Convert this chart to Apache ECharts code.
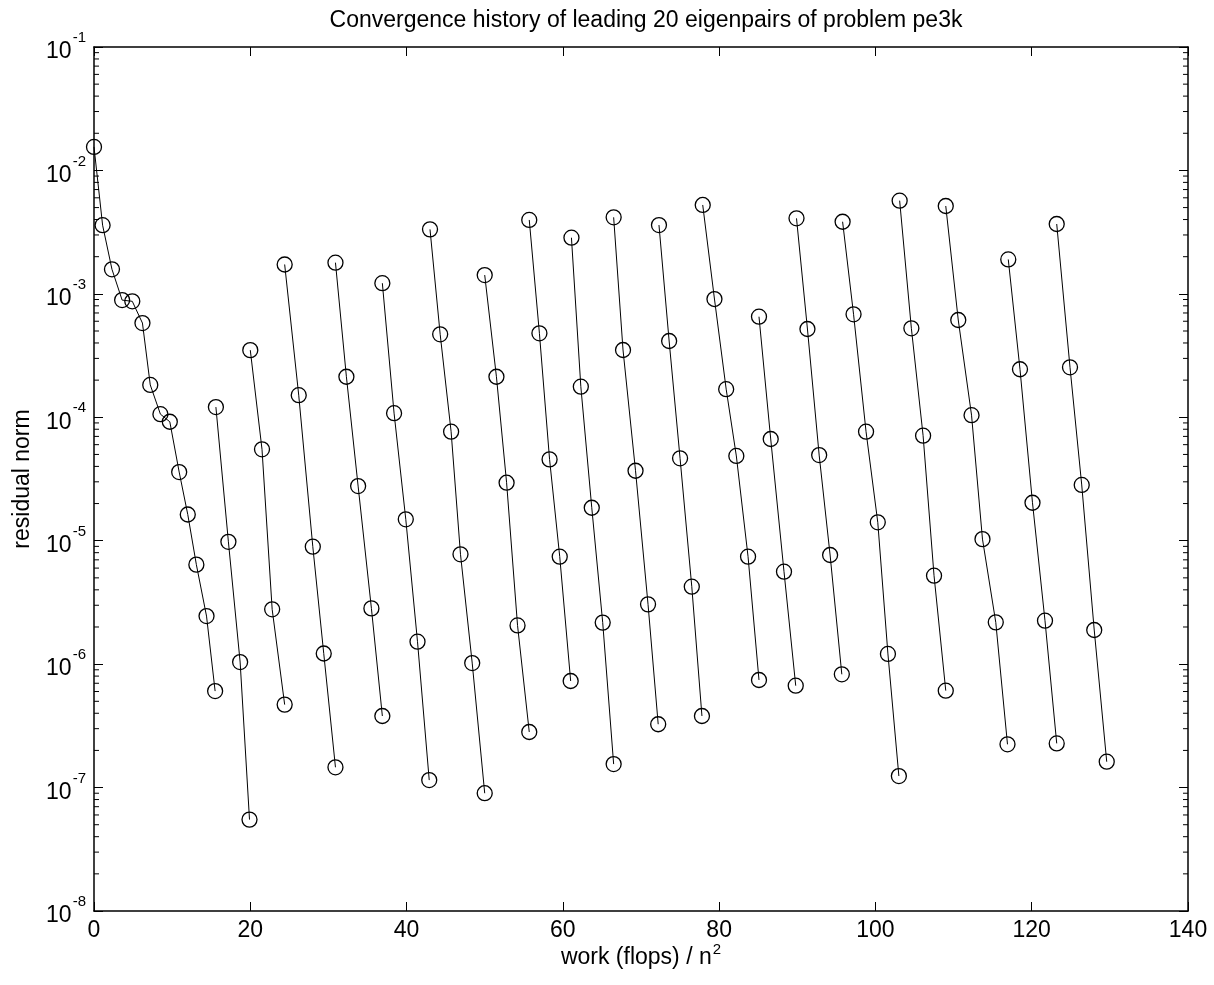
<!DOCTYPE html>
<html>
<head>
<meta charset="utf-8">
<script src="https://cdn.jsdelivr.net/npm/echarts@6/dist/echarts.min.js"></script>
<style>
html,body{margin:0;padding:0;background:#fff;}
#chart{width:1214px;height:985px;}
</style>
</head>
<body>
<div id="chart"></div>
<script>
// ---- data: work (flops)/n^2 and residual norm for each run ----
const x01 = [0, 1.1, 2.3, 3.6, 4.9, 6.2, 7.2, 8.5, 9.7, 10.9, 12.0, 13.1, 14.4, 15.5];
const r01 = [1.55e-2, 3.6e-3, 1.58e-3, 8.9e-4, 8.7e-4, 5.8e-4, 1.83e-4, 1.06e-4, 9.2e-5, 3.6e-5, 1.63e-5, 6.4e-6, 2.45e-6, 6.05e-7];
const x02 = [15.6, 17.2, 18.7, 19.9];
const r02 = [1.21e-4, 9.8e-6, 1.04e-6, 5.5e-8];
const x03 = [20.0, 21.5, 22.8, 24.4];
const r03 = [3.5e-4, 5.5e-5, 2.78e-6, 4.7e-7];
const x04 = [24.4, 26.2, 28.0, 29.4, 30.9];
const r04 = [1.73e-3, 1.51e-4, 8.95e-6, 1.22e-6, 1.46e-7];
const x05 = [30.9, 32.3, 33.8, 35.5, 36.9];
const r05 = [1.79e-3, 2.13e-4, 2.77e-5, 2.83e-6, 3.8e-7];
const x06 = [36.9, 38.4, 39.9, 41.4, 42.9];
const r06 = [1.22e-3, 1.08e-4, 1.49e-5, 1.52e-6, 1.15e-7];
const x07 = [43.0, 44.3, 45.7, 46.9, 48.4, 50.0];
const r07 = [3.33e-3, 4.7e-4, 7.64e-5, 7.76e-6, 1.02e-6, 9.0e-8];
const x08 = [50.0, 51.5, 52.8, 54.2, 55.7];
const r08 = [1.42e-3, 2.13e-4, 2.95e-5, 2.06e-6, 2.82e-7];
const x09 = [55.7, 57.0, 58.3, 59.6, 61.0];
const r09 = [3.97e-3, 4.79e-4, 4.56e-5, 7.43e-6, 7.3e-7];
const x10 = [61.1, 62.3, 63.7, 65.1, 66.5];
const r10 = [2.85e-3, 1.77e-4, 1.85e-5, 2.17e-6, 1.55e-7];
const x11 = [66.5, 67.7, 69.3, 70.9, 72.2];
const r11 = [4.17e-3, 3.51e-4, 3.69e-5, 3.05e-6, 3.26e-7];
const x12 = [72.3, 73.6, 75.0, 76.5, 77.8];
const r12 = [3.61e-3, 4.15e-4, 4.65e-5, 4.24e-6, 3.8e-7];
const x13 = [77.9, 79.4, 80.9, 82.2, 83.7, 85.1];
const r13 = [5.25e-3, 9.08e-4, 1.69e-4, 4.86e-5, 7.43e-6, 7.44e-7];
const x14 = [85.1, 86.6, 88.3, 89.8];
const r14 = [6.53e-4, 6.67e-5, 5.61e-6, 6.69e-7];
const x15 = [89.9, 91.3, 92.8, 94.2, 95.7];
const r15 = [4.09e-3, 5.19e-4, 4.94e-5, 7.66e-6, 8.27e-7];
const x16 = [95.8, 97.2, 98.8, 100.3, 101.6, 103.0];
const r16 = [3.84e-3, 6.83e-4, 7.64e-5, 1.41e-5, 1.21e-6, 1.24e-7];
const x17 = [103.1, 104.6, 106.1, 107.5, 109.0];
const r17 = [5.69e-3, 5.26e-4, 7.1e-5, 5.21e-6, 6.1e-7];
const x18 = [109.0, 110.6, 112.3, 113.7, 115.4, 116.9];
const r18 = [5.15e-3, 6.14e-4, 1.04e-4, 1.03e-5, 2.18e-6, 2.24e-7];
const x19 = [117.0, 118.5, 120.1, 121.7, 123.2];
const r19 = [1.9e-3, 2.45e-4, 2.03e-5, 2.25e-6, 2.28e-7];
const x20 = [123.2, 124.9, 126.4, 128.0, 129.6];
const r20 = [3.68e-3, 2.54e-4, 2.83e-5, 1.89e-6, 1.62e-7];

const titleText = 'Convergence history of leading 20 eigenpairs of problem pe3k';
const xName = 'work (flops) / n';
const yName = 'residual norm';
const xTicks = [0, 20, 40, 60, 80, 100, 120, 140];
const yDecades = [-8, -7, -6, -5, -4, -3, -2, -1];

const runs = [[x01,r01],[x02,r02],[x03,r03],[x04,r04],[x05,r05],[x06,r06],[x07,r07],[x08,r08],[x09,r09],[x10,r10],
              [x11,r11],[x12,r12],[x13,r13],[x14,r14],[x15,r15],[x16,r16],[x17,r17],[x18,r18],[x19,r19],[x20,r20]];

const FONT = '"Liberation Sans", Arial, Helvetica, sans-serif';
const xMin = xTicks[0], xMax = xTicks[xTicks.length - 1];
const yMin = Math.pow(10, yDecades[0]), yMax = Math.pow(10, yDecades[yDecades.length - 1]);

// minor log ticks (2..9 x 10^k)
const minorVals = [];
for (let k = yDecades[0]; k < yDecades[yDecades.length - 1]; k++) {
  for (let m = 2; m <= 9; m++) minorVals.push([xMin, m * Math.pow(10, k)]);
}

const series = runs.map(([xs, rs]) => ({
  type: 'line',
  xAxisIndex: 0, yAxisIndex: 0,
  data: xs.map((x, i) => [x, rs[i]]),
  symbol: 'circle',
  symbolSize: 15,
  itemStyle: { color: 'rgba(0,0,0,0)', borderColor: '#000', borderWidth: 1.3 },
  lineStyle: { color: '#000', width: 1 },
  emphasis: { disabled: true },
  silent: true,
  z: 3
}));

series.push({
  type: 'custom',
  xAxisIndex: 0, yAxisIndex: 0,
  data: minorVals,
  silent: true,
  clip: false,
  renderItem: function (params, api) {
    const v = api.value(1);
    const p0 = api.coord([xMin, v]);
    const p1 = api.coord([xMax, v]);
    return {
      type: 'group',
      children: [
        { type: 'line', shape: { x1: p0[0], y1: p0[1], x2: p0[0] + 5, y2: p0[1] }, style: { stroke: '#000', lineWidth: 1 } },
        { type: 'line', shape: { x1: p1[0] - 5, y1: p1[1], x2: p1[0], y2: p1[1] }, style: { stroke: '#000', lineWidth: 1 } }
      ]
    };
  }
});

const axisLineStyle = { show: true, onZero: false, lineStyle: { color: '#000', width: 1.5 } };
const majorTick = { show: true, inside: true, length: 9, lineStyle: { color: '#000', width: 1 } };

const option = {
  animation: false,
  backgroundColor: '#fff',
  title: {
    text: titleText,
    left: 641, top: 4, textAlign: 'center',
    textStyle: { fontFamily: FONT, fontSize: 23, fontWeight: 'normal', color: '#000' }
  },
  grid: { left: 94, right: 26, top: 47, bottom: 74 },
  xAxis: [
    {
      type: 'value', position: 'bottom', min: xMin, max: xMax, interval: 20,
      axisLine: axisLineStyle, axisTick: majorTick, splitLine: { show: false },
      axisLabel: { fontFamily: FONT, fontSize: 23, color: '#000', margin: 8 },
      name: '{a|' + xName + '}{s|2}',
      nameLocation: 'middle', nameGap: 31, nameMoveOverlap: false,
      nameTextStyle: {
        fontFamily: FONT, color: '#000', verticalAlign: 'top',
        rich: {
          a: { fontFamily: FONT, fontSize: 23, color: '#000', verticalAlign: 'bottom' },
          s: { fontFamily: FONT, fontSize: 15, color: '#000', verticalAlign: 'top', padding: [0, 0, 12, 1] }
        }
      }
    },
    {
      type: 'value', position: 'top', min: xMin, max: xMax, interval: 20,
      axisLine: axisLineStyle, axisTick: majorTick, splitLine: { show: false },
      axisLabel: { show: false }
    }
  ],
  yAxis: [
    {
      type: 'log', logBase: 10, position: 'left', min: yMin, max: yMax, interval: 1, splitNumber: 7,
      axisLine: axisLineStyle, axisTick: majorTick, splitLine: { show: false }, minorTick: { show: false },
      axisLabel: {
        margin: 8,
        formatter: function (v) {
          const e = Math.round(Math.log10(v));
          return '{b|10}{e|' + e + '}';
        },
        rich: {
          b: { fontFamily: FONT, fontSize: 23, color: '#000', verticalAlign: 'bottom', padding: [10, 0, 0, 0] },
          e: { fontFamily: FONT, fontSize: 15, color: '#000', verticalAlign: 'top', padding: [0, 0, 10, 1] }
        }
      },
      name: yName, nameLocation: 'middle', nameGap: 60, nameRotate: 90,
      nameTextStyle: { fontFamily: FONT, fontSize: 23, color: '#000' }
    },
    {
      type: 'log', logBase: 10, position: 'right', min: yMin, max: yMax, interval: 1, splitNumber: 7,
      axisLine: axisLineStyle, axisTick: majorTick, splitLine: { show: false },
      axisLabel: { show: false }
    }
  ],
  series: series
};

const chart = echarts.init(document.getElementById('chart'), null, { renderer: 'canvas' });
chart.setOption(option);
</script>
</body>
</html>
